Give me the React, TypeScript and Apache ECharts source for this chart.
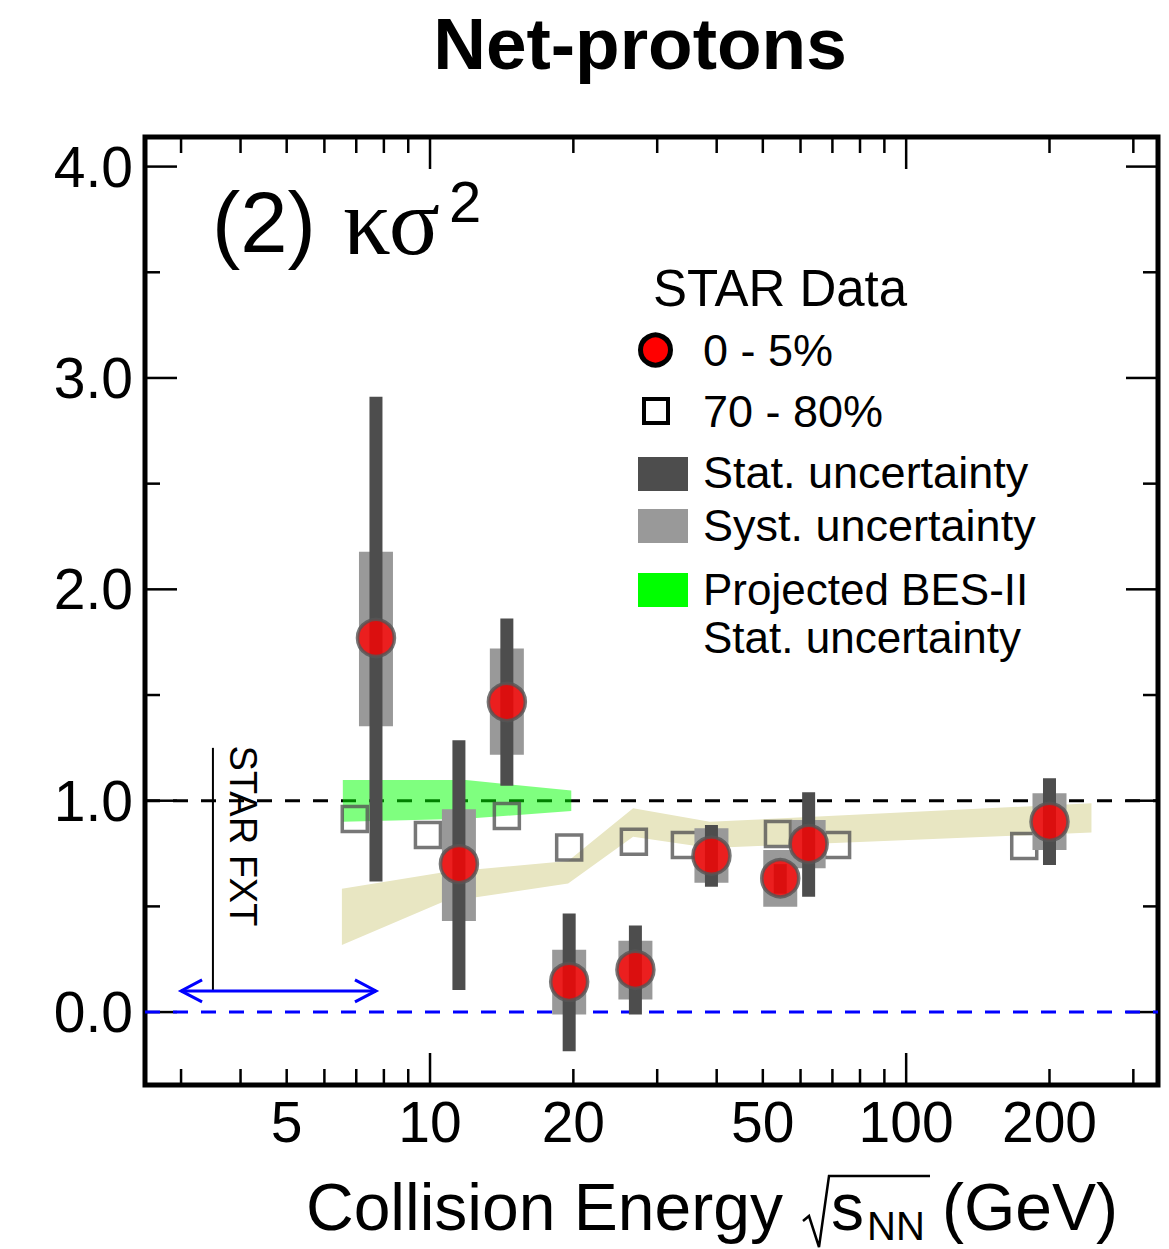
import React, { useEffect, useRef } from 'react';
import * as echarts from 'echarts';

// ---- axis ranges ----
const X_MIN = 2.52;
const X_MAX = 338;
const Y_MIN = -0.345;
const Y_MAX = 4.14;

// ---- STAR data, 0-5% central ----
const energies = [7.7, 11.5, 14.5, 19.6, 27, 39, 54.4, 62.4, 200];
const central = [1.77, 0.7, 1.467, 0.143, 0.2, 0.74, 0.633, 0.795, 0.9];
const statLow = [0.618, 0.104, 1.071, -0.185, -0.012, 0.593, 0.56, 0.546, 0.696];
const statHigh = [2.911, 1.286, 1.862, 0.466, 0.41, 0.885, 0.7, 1.04, 1.106];
const systLow = [1.352, 0.431, 1.217, -0.012, 0.06, 0.612, 0.498, 0.68, 0.767];
const systHigh = [2.178, 0.96, 1.72, 0.295, 0.337, 0.87, 0.767, 0.909, 1.035];

// ---- STAR data, 70-80% peripheral (plotted positions) ----
const periphEnergies = [6.95, 9.9, 14.5, 19.6, 26.8, 34.3, 53.8, 71.6, 177];
const periphValues = [0.914, 0.838, 0.928, 0.779, 0.806, 0.79, 0.843, 0.79, 0.786];

// ---- projected BES-II stat. uncertainty band ----
const besEnergies = [6.56, 11.9, 19.8];
const besUpper = [1.098, 1.098, 1.048];
const besLower = [0.9, 0.915, 0.951];

// ---- model band (beige) ----
const modelEnergies = [6.53, 10.6, 19.5, 26.7, 38.7, 245];
const modelUpper = [0.584, 0.66, 0.715, 0.964, 0.9, 0.988];
const modelLower = [0.317, 0.52, 0.608, 0.83, 0.776, 0.849];

// ---- ticks ----
const xTickValues = [3, 4, 5, 6, 7, 8, 9, 10, 20, 30, 40, 50, 60, 70, 80, 90, 100, 200, 300];
const xMajorTicks = [10, 100];
const xTickLabels = [5, 10, 20, 50, 100, 200];
const yTickValues = [0, 0.5, 1, 1.5, 2, 2.5, 3, 3.5, 4];
const yLabelValues = [0, 1, 2, 3, 4];
const yTickLabels = ['0.0', '1.0', '2.0', '3.0', '4.0'];

// ---- reference lines ----
const unityLevel = 1.0;
const zeroLevel = 0.0;

// ---- STAR FXT annotation ----
const fxtRange = [3.0, 7.7];
const fxtArrowY = 0.1;
const fxtLineEnergy = 3.5;
const fxtLineTop = 1.25;

const SANS = '"Liberation Sans", Arial, Helvetica, sans-serif';
const SERIF = '"Liberation Serif", "DejaVu Serif", serif';

function txt(text: string, x: number, y: number, size: number, align: string, extra: any = {}) {
  const { fontFamily, fontWeight, lineHeight, ...rest } = extra;
  const style: any = {
    text,
    x: 0,
    y: 0,
    fontSize: size,
    fontFamily: fontFamily || SANS,
    fontWeight: fontWeight || 'normal',
    fill: '#000',
    align,
    textAlign: align,
    verticalAlign: 'middle',
    textVerticalAlign: 'middle',
  };
  if (lineHeight) style.lineHeight = lineHeight;
  return { type: 'text', x, y, silent: true, ...rest, style };
}

function bandPolygon(xs: number[], up: number[], lo: number[], fill: string) {
  return (params: any, api: any) => {
    if (params.dataIndex !== 0) return null;
    const pts: number[][] = [];
    for (let i = 0; i < xs.length; i++) pts.push(api.coord([xs[i], up[i]]));
    for (let i = xs.length - 1; i >= 0; i--) pts.push(api.coord([xs[i], lo[i]]));
    return { type: 'polygon', shape: { points: pts }, style: { fill } };
  };
}

function errorBoxes(width: number, fill: string) {
  return (params: any, api: any) => {
    const x = api.value(0);
    const lo = api.value(1);
    const hi = api.value(2);
    const pTop = api.coord([x, hi]);
    const pBot = api.coord([x, lo]);
    return {
      type: 'rect',
      shape: { x: pTop[0] - width / 2, y: pTop[1], width, height: pBot[1] - pTop[1] },
      style: { fill },
    };
  };
}

export default function App() {
  const ref = useRef<HTMLDivElement>(null);

  useEffect(() => {
    const chart = echarts.init(ref.current!, null, { renderer: 'svg' });

    const tickStyle = { stroke: '#000', lineWidth: 2.5 };

    const option: any = {
      animation: false,
      backgroundColor: '#fff',
      title: {
        text: 'Net-protons',
        left: 640,
        top: 7,
        padding: 0,
        textAlign: 'center',
        textStyle: { fontSize: 73, fontWeight: 'bold', fontFamily: SANS, color: '#000' },
      },
      grid: {
        left: 145,
        right: 11,
        top: 137,
        bottom: 164,
        show: true,
        borderColor: '#000',
        borderWidth: 5,
        backgroundColor: 'transparent',
        containLabel: false,
        outerBoundsMode: 'none',
      },
      xAxis: {
        type: 'log',
        logBase: 10,
        min: X_MIN,
        max: X_MAX,
        axisLine: { show: false },
        axisTick: { show: false },
        axisLabel: { show: false },
        splitLine: { show: false },
      },
      yAxis: {
        type: 'value',
        min: Y_MIN,
        max: Y_MAX,
        axisLine: { show: false },
        axisTick: { show: false },
        axisLabel: { show: false },
        splitLine: { show: false },
      },
      series: [
        // ticks (x)
        {
          type: 'custom',
          name: 'xTicks',
          silent: true,
          z: 1,
          data: xTickValues.map((v) => [v, Y_MIN]),
          renderItem: (params: any, api: any) => {
            const v = api.value(0);
            const len = xMajorTicks.indexOf(v) >= 0 ? 32 : 16;
            const b = api.coord([v, Y_MIN]);
            const t = api.coord([v, Y_MAX]);
            return {
              type: 'group',
              children: [
                { type: 'line', shape: { x1: b[0], y1: b[1], x2: b[0], y2: b[1] - len }, style: tickStyle },
                { type: 'line', shape: { x1: t[0], y1: t[1], x2: t[0], y2: t[1] + len }, style: tickStyle },
              ],
            };
          },
        },
        // ticks (y)
        {
          type: 'custom',
          name: 'yTicks',
          silent: true,
          z: 1,
          data: yTickValues.map((v) => [X_MIN, v]),
          renderItem: (params: any, api: any) => {
            const v = api.value(1);
            const len = Math.abs(v - Math.round(v)) < 1e-6 ? 32 : 15;
            const l = api.coord([X_MIN, v]);
            const r = api.coord([X_MAX, v]);
            return {
              type: 'group',
              children: [
                { type: 'line', shape: { x1: l[0], y1: l[1], x2: l[0] + len, y2: l[1] }, style: tickStyle },
                { type: 'line', shape: { x1: r[0], y1: r[1], x2: r[0] - len, y2: r[1] }, style: tickStyle },
              ],
            };
          },
        },
        // x tick labels
        {
          type: 'custom',
          name: 'xLabels',
          silent: true,
          z: 1,
          data: xTickLabels.map((v) => [v, Y_MIN]),
          renderItem: (params: any, api: any) => {
            const v = api.value(0);
            const p = api.coord([v, Y_MIN]);
            return {
              type: 'text',
              style: {
                text: String(v),
                x: p[0],
                y: p[1] + 37,
                fontSize: 57,
                fontFamily: SANS,
                fill: '#000',
                align: 'center',
                verticalAlign: 'middle',
              },
            };
          },
        },
        // y tick labels
        {
          type: 'custom',
          name: 'yLabels',
          silent: true,
          z: 1,
          data: yLabelValues.map((v) => [X_MIN, v]),
          renderItem: (params: any, api: any) => {
            const v = api.value(1);
            const p = api.coord([X_MIN, v]);
            return {
              type: 'text',
              style: {
                text: yTickLabels[params.dataIndex],
                x: p[0] - 12,
                y: p[1],
                fontSize: 57,
                fontFamily: SANS,
                fill: '#000',
                align: 'right',
                verticalAlign: 'middle',
              },
            };
          },
        },
        // reference dashed lines
        {
          type: 'line',
          name: 'unity',
          silent: true,
          z: 2,
          symbol: 'none',
          data: [
            [X_MIN, unityLevel],
            [X_MAX, unityLevel],
          ],
          lineStyle: { color: '#000', width: 3, type: [15, 13] },
        },
        {
          type: 'line',
          name: 'zero',
          silent: true,
          z: 2,
          symbol: 'none',
          data: [
            [X_MIN, zeroLevel],
            [X_MAX, zeroLevel],
          ],
          lineStyle: { color: '#0000ff', width: 3, type: [15, 13] },
        },
        // model band
        {
          type: 'custom',
          name: 'Model band',
          silent: true,
          z: 3,
          data: modelEnergies.map((e, i) => [e, modelLower[i]]),
          renderItem: bandPolygon(modelEnergies, modelUpper, modelLower, '#e8e6c2'),
        },
        // BES-II projection band
        {
          type: 'custom',
          name: 'Projected BES-II Stat. uncertainty',
          silent: true,
          z: 4,
          data: besEnergies.map((e, i) => [e, besLower[i]]),
          renderItem: bandPolygon(besEnergies, besUpper, besLower, 'rgba(0,255,0,0.5)'),
        },
        // 70-80%
        {
          type: 'scatter',
          name: '70 - 80%',
          z: 5,
          symbol: 'rect',
          symbolSize: 25,
          data: periphEnergies.map((e, i) => [e, periphValues[i]]),
          itemStyle: { color: 'rgba(0,0,0,0)', borderColor: '#555', borderWidth: 3.5 },
        },
        // syst boxes
        {
          type: 'custom',
          name: 'Syst. uncertainty',
          z: 6,
          data: energies.map((e, i) => [e, systLow[i], systHigh[i]]),
          renderItem: errorBoxes(34, '#999999'),
        },
        // stat bars
        {
          type: 'custom',
          name: 'Stat. uncertainty',
          z: 7,
          data: energies.map((e, i) => [e, statLow[i], statHigh[i]]),
          renderItem: errorBoxes(13, '#4d4d4d'),
        },
        // 0-5%
        {
          type: 'scatter',
          name: '0 - 5%',
          z: 8,
          symbol: 'circle',
          symbolSize: 37,
          data: energies.map((e, i) => [e, central[i]]),
          itemStyle: { color: '#ff0000', borderColor: '#555', borderWidth: 3.5 },
        },
        // STAR FXT annotation
        {
          type: 'custom',
          name: 'STAR FXT range',
          silent: true,
          z: 8,
          data: [[fxtRange[0], fxtArrowY]],
          renderItem: (params: any, api: any) => {
            const a = api.coord([fxtRange[0], fxtArrowY]);
            const b = api.coord([fxtRange[1], fxtArrowY]);
            const lt = api.coord([fxtLineEnergy, fxtLineTop]);
            const lb = api.coord([fxtLineEnergy, fxtArrowY]);
            const blue = { stroke: '#0000ff', lineWidth: 3, fill: 'none' };
            return {
              type: 'group',
              children: [
                { type: 'line', shape: { x1: lt[0], y1: lt[1], x2: lb[0], y2: lb[1] }, style: { stroke: '#000', lineWidth: 2 } },
                { type: 'line', shape: { x1: a[0], y1: a[1], x2: b[0], y2: b[1] }, style: blue },
                { type: 'polyline', shape: { points: [[a[0] + 21, a[1] - 11], [a[0], a[1]], [a[0] + 21, a[1] + 11]] }, style: blue },
                { type: 'polyline', shape: { points: [[b[0] - 21, b[1] - 11], [b[0], b[1]], [b[0] - 21, b[1] + 11]] }, style: blue },
              ],
            };
          },
        },
      ],
      graphic: [
        // panel label
        txt('(2)', 212, 222, 85, 'left'),
        txt('κσ', 343, 222, 95, 'left', { fontFamily: SERIF }),
        txt('2', 449, 201, 58, 'left'),
        // STAR FXT
        txt('STAR FXT', 243, 836, 38, 'center', { rotation: -Math.PI / 2 }),
        // legend
        txt('STAR Data', 653, 288, 51, 'left'),
        { type: 'circle', shape: { cx: 655.5, cy: 350, r: 15 }, style: { fill: '#ff0000', stroke: '#000', lineWidth: 5 } },
        txt('0 - 5%', 703, 350, 45, 'left'),
        { type: 'rect', shape: { x: 644, y: 399, width: 24, height: 24 }, style: { fill: '#fff', stroke: '#000', lineWidth: 4 } },
        txt('70 - 80%', 703, 411, 45, 'left'),
        { type: 'rect', shape: { x: 638, y: 457, width: 50, height: 34 }, style: { fill: '#4d4d4d' } },
        txt('Stat. uncertainty', 703, 472, 45, 'left'),
        { type: 'rect', shape: { x: 638, y: 509, width: 50, height: 34 }, style: { fill: '#999999' } },
        txt('Syst. uncertainty', 703, 525, 45, 'left'),
        { type: 'rect', shape: { x: 638, y: 573, width: 50, height: 34 }, style: { fill: '#00ff00' } },
        txt('Projected BES-II', 703, 589, 44, 'left'),
        txt('Stat. uncertainty', 703, 637, 44, 'left'),
        // x-axis title
        txt('Collision Energy', 306, 1207, 66, 'left'),
        {
          type: 'polyline',
          shape: { points: [[803, 1221], [809, 1216], [819, 1247], [829, 1176], [930, 1176]] },
          style: { stroke: '#000', lineWidth: 2.5, fill: 'none' },
        },
        txt('s', 831, 1207, 66, 'left'),
        txt('NN', 867, 1226, 40, 'left'),
        txt('(GeV)', 942, 1207, 66, 'left'),
      ],
    };

    chart.setOption(option);
    return () => chart.dispose();
  }, []);

  return (
    <div
      ref={ref}
      style={{ position: 'absolute', left: 0, top: 0, width: 1169, height: 1249, background: '#fff' }}
    />
  );
}
